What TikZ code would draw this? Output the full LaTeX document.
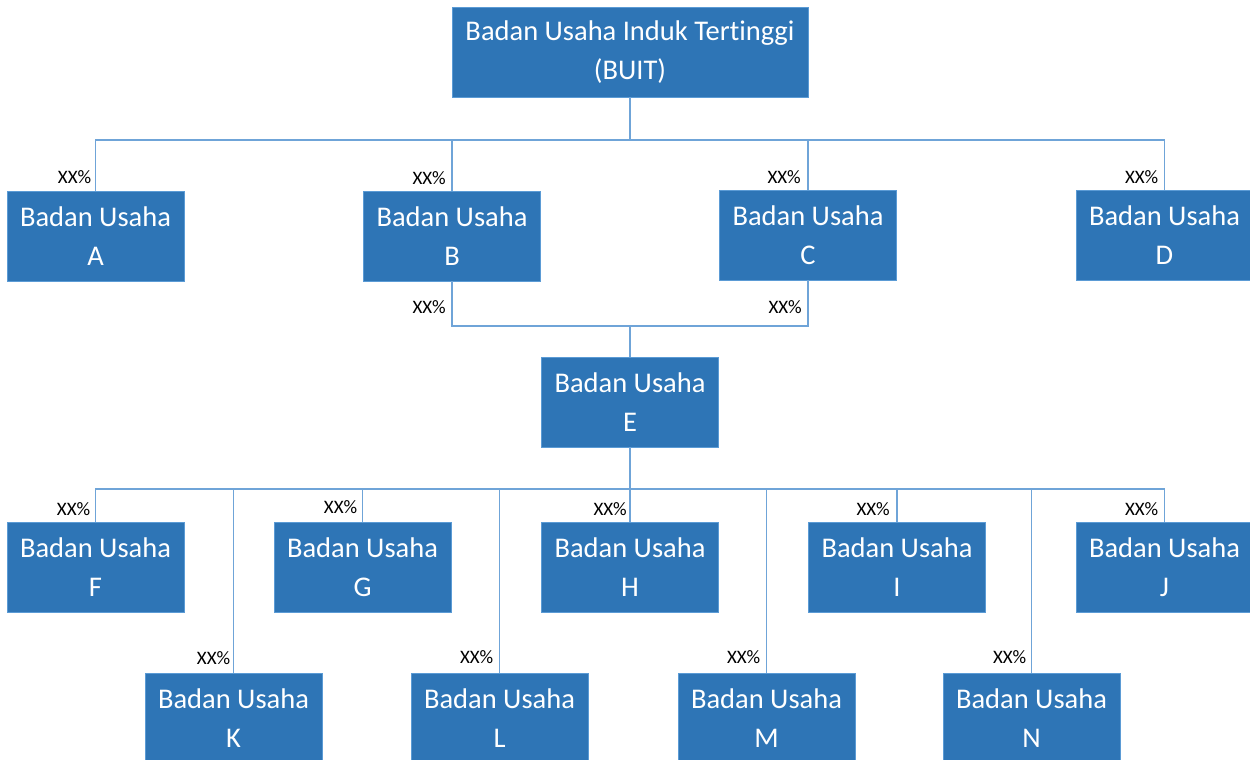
\documentclass[tikz,border=0pt]{standalone}
\usepackage{fontspec}
\setmainfont{Carlito}[Ligatures=NoCommon]
\definecolor{boxblue}{HTML}{2E75B6}
\definecolor{boxedge}{HTML}{5B9BD5}
\definecolor{linkblue}{HTML}{6FA4D8}
\begin{document}
\begin{tikzpicture}[x=1pt,y=-1pt,
  unit/.style={rectangle, fill=boxblue, draw=boxedge, line width=0.8pt,
    minimum width=177pt, minimum height=90pt, inner sep=0pt,
    text=white, align=center, font=\fontsize{28.5}{39}\selectfont},
  link/.style={draw=linkblue, line width=1.4pt},
  pct/.style={inner sep=0pt, font=\fontsize{19}{20}\selectfont, text=black}]
\useasboundingbox (0,0) rectangle (1250,760);
\fill[white] (0,0) rectangle (1250,760);

% top holding company
\node[unit, minimum width=356pt] (buit) at (630,52) {Badan Usaha Induk Tertinggi\\(BUIT)};

% first tier
\node[unit] (a) at (95.5,236) {Badan Usaha\\A};
\node[unit] (b) at (452,236) {Badan Usaha\\B};
\node[unit] (c) at (808,235) {Badan Usaha\\C};
\node[unit] (d) at (1164.5,235) {Badan Usaha\\D};

% joint subsidiary
\node[unit] (e) at (630,402) {Badan Usaha\\E};

% second tier, upper row
\node[unit] (f) at (95.5,567) {Badan Usaha\\F};
\node[unit] (g) at (362.5,567) {Badan Usaha\\G};
\node[unit] (h) at (630,567) {Badan Usaha\\H};
\node[unit] (i) at (897,567) {Badan Usaha\\I};
\node[unit] (j) at (1164.5,567) {Badan Usaha\\J};

% second tier, lower row
\node[unit] (k) at (233.5,718) {Badan Usaha\\K};
\node[unit] (l) at (499.5,718) {Badan Usaha\\L};
\node[unit] (m) at (766.5,718) {Badan Usaha\\M};
\node[unit] (n) at (1031.5,718) {Badan Usaha\\N};

% bus lines
\coordinate (bus1) at (630,140);
\coordinate (bus2) at (630,326);
\coordinate (bus3) at (630,489);

\draw[link] (buit.south) -- (bus1);
\draw[link] (a.north) -- (a.north |- bus1) -- (d.north |- bus1) -- (d.north);
\draw[link] (b.north) -- (b.north |- bus1);
\draw[link] (c.north) -- (c.north |- bus1);

\draw[link] (b.south) -- (b.south |- bus2) -- (c.south |- bus2) -- (c.south);
\draw[link] (bus2) -- (e.north);

\draw[link] (e.south) -- (bus3);
\draw[link] (f.north) -- (f.north |- bus3) -- (j.north |- bus3) -- (j.north);
\draw[link] (g.north) -- (g.north |- bus3);
\draw[link] (h.north) -- (h.north |- bus3);
\draw[link] (i.north) -- (i.north |- bus3);
\draw[link] (k.north) -- (k.north |- bus3);
\draw[link] (l.north) -- (l.north |- bus3);
\draw[link] (m.north) -- (m.north |- bus3);
\draw[link] (n.north) -- (n.north |- bus3);

% ownership shares
\node[pct, anchor=east] (pa) at ([xshift=-4pt, yshift=14pt]a.north) {XX\%};
\node[pct, anchor=east] (pb) at ([xshift=-6pt, yshift=13pt]b.north) {XX\%};
\node[pct, anchor=east] (pc) at ([xshift=-7pt, yshift=13pt]c.north) {XX\%};
\node[pct, anchor=east] (pd) at ([xshift=-6pt, yshift=13pt]d.north) {XX\%};
\node[pct, anchor=east] (pbe) at ([xshift=-6pt, yshift=-26pt]b.south) {XX\%};
\node[pct, anchor=east] (pce) at ([xshift=-6pt, yshift=-27pt]c.south) {XX\%};
\node[pct, anchor=east] (pf) at ([xshift=-5pt, yshift=13pt]f.north) {XX\%};
\node[pct, anchor=east] (pg) at ([xshift=-5pt, yshift=15pt]g.north) {XX\%};
\node[pct, anchor=east] (ph) at ([xshift=-3pt, yshift=13pt]h.north) {XX\%};
\node[pct, anchor=east] (pi) at ([xshift=-7pt, yshift=13pt]i.north) {XX\%};
\node[pct, anchor=east] (pj) at ([xshift=-6pt, yshift=13pt]j.north) {XX\%};
\node[pct, anchor=east] (pk) at ([xshift=-3pt, yshift=15pt]k.north) {XX\%};
\node[pct, anchor=east] (pl) at ([xshift=-6pt, yshift=16pt]l.north) {XX\%};
\node[pct, anchor=east] (pm) at ([xshift=-6pt, yshift=16pt]m.north) {XX\%};
\node[pct, anchor=east] (pn) at ([xshift=-5pt, yshift=16pt]n.north) {XX\%};
\end{tikzpicture}
\end{document}
